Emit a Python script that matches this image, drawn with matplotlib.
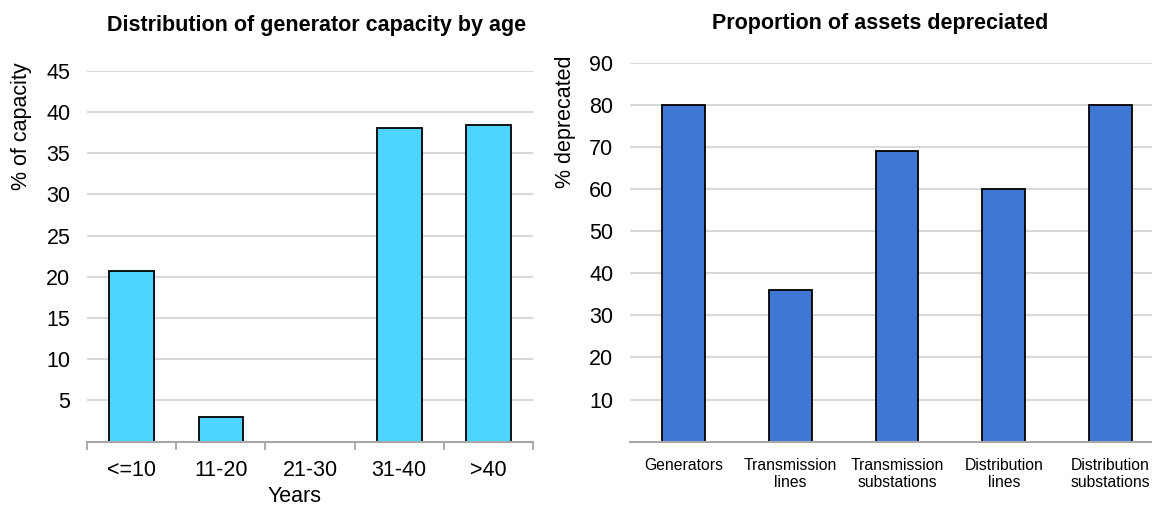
import matplotlib
matplotlib.use("Agg")
import matplotlib.pyplot as plt
import numpy as np

plt.rcParams['font.family'] = ['Liberation Sans', 'DejaVu Sans']

# left chart: generator capacity by age
age_groups = ['<=10', '11-20', '21-30', '31-40', '>40']
capacity_pct = [20.7, 3.0, 0.0, 38.0, 38.4]
cap_ticks = [5, 10, 15, 20, 25, 30, 35, 40, 45]

# right chart: proportion depreciated
asset_types = ['Generators', 'Transmission\nlines', 'Transmission\nsubstations',
               'Distribution\nlines', 'Distribution\nsubstations']
depreciated_pct = [80, 36, 69, 60, 80]
dep_ticks = [10, 20, 30, 40, 50, 60, 70, 80, 90]

W, H = 1152, 507
fig = plt.figure(figsize=(W / 100, H / 100), dpi=100)

grid_col = '#d9d9d9'
axis_col = '#a6a6a6'
fs = 15.5

def style(ax):
    for s in ['top', 'right', 'left']:
        ax.spines[s].set_visible(False)
    ax.spines['bottom'].set_color(axis_col)
    ax.spines['bottom'].set_linewidth(1.5)
    ax.set_axisbelow(True)
    ax.yaxis.grid(True, color=grid_col, linewidth=1.5)
    ax.tick_params(axis='y', length=0, pad=12, labelsize=fs)

# ---- left
ax1 = fig.add_axes([87 / W, 1 - 441.7 / H, 446 / W, 371 / H])
x1 = np.arange(len(age_groups))
ax1.bar(x1, capacity_pct, width=0.5, color='#4dd4ff', edgecolor='black', linewidth=1.3)
style(ax1)
ax1.set_xlim(-0.5, 4.5)
ax1.set_ylim(0, 45)
ax1.set_yticks(cap_ticks)
ax1.set_xticks(x1)
ax1.set_xticklabels(age_groups)
ax1.set_xticks(np.arange(-0.5, 5, 1), minor=True)
ax1.tick_params(axis='x', which='major', length=0, pad=13, labelsize=fs)
ax1.tick_params(axis='x', which='minor', length=6, width=1.3, color=axis_col)
ax1.set_ylabel('% of capacity', fontsize=fs)
ax1.yaxis.set_label_coords(-0.123, 0.851)
ax1.set_xlabel('Years', fontsize=fs)
ax1.xaxis.set_label_coords(0.466, -0.120)
fig.text(317 / W, 1 - 25 / H, 'Distribution of generator capacity by age',
         ha='center', va='center', fontsize=fs, fontweight='bold')

# ---- right
ax2 = fig.add_axes([630 / W, 1 - 441.7 / H, 534 / W, 379 / H])
x2 = np.arange(len(asset_types))
ax2.bar(x2, depreciated_pct, width=0.4, color='#3f78d4', edgecolor='black', linewidth=1.3)
style(ax2)
ax2.set_xlim(-0.5, 4.5)
ax2.set_ylim(0, 90)
ax2.set_yticks(dep_ticks)
ax2.set_xticks(x2)
ax2.set_xticklabels(asset_types, fontsize=11.3, linespacing=1.1)
ax2.tick_params(axis='x', length=0, pad=12)
ax2.set_ylabel('% deprecated', fontsize=fs)
ax2.yaxis.set_label_coords(-0.101, 0.843)
fig.text(880 / W, 1 - 23 / H, 'Proportion of assets depreciated',
         ha='center', va='center', fontsize=fs, fontweight='bold')

fig.savefig('out.png', dpi=100)
